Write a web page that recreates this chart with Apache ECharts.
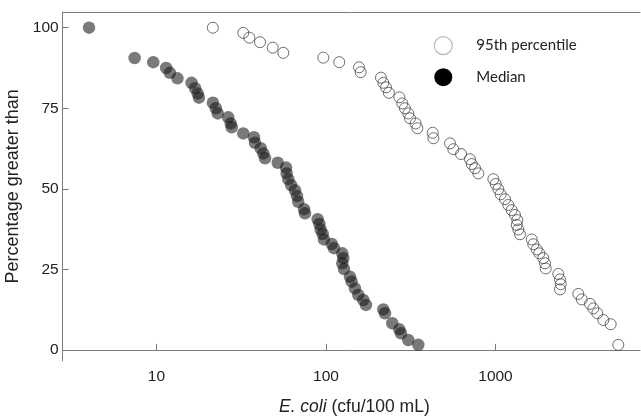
<!DOCTYPE html>
<html>
<head>
<meta charset="utf-8">
<script src="https://cdn.jsdelivr.net/npm/echarts@6/dist/echarts.min.js"></script>
<style>
html,body{margin:0;padding:0;background:#fff;}
#c{width:641px;height:418px;}
</style>
</head>
<body>
<div id="c"></div>
<script>
// ---- data ----
const medianX = [4.0, 7.43, 9.57, 11.4, 12.0, 13.3, 16.1, 16.9, 17.5, 17.8, 21.5, 22.4, 23.0, 26.5, 27.4, 27.8, 32.5, 37.6, 38.1, 41.2, 42.7, 43.7, 51.9, 58.1, 58.6, 59.9, 62.2, 65.6, 67.4, 68.6, 74.2, 75.2, 89.3, 91.3, 93.0, 95.6, 97.3, 108.1, 111.5, 124.8, 126.5, 124.8, 127.7, 138.6, 141.8, 148.3, 155.1, 166.0, 172.2, 217.8, 222.8, 246.1, 270.7, 277.0, 305.9, 350.4];
const medianY = [100.0, 90.6, 89.3, 87.5, 86.0, 84.3, 82.9, 81.2, 79.6, 78.3, 76.7, 75.0, 73.4, 72.2, 70.3, 69.1, 67.2, 66.0, 64.3, 62.6, 61.0, 59.5, 58.1, 56.6, 54.8, 53.0, 51.2, 49.6, 47.8, 46.0, 43.7, 42.4, 40.6, 39.1, 37.4, 36.0, 34.3, 32.9, 31.6, 30.0, 28.5, 26.9, 25.1, 22.7, 21.2, 19.1, 17.1, 15.5, 14.0, 12.6, 11.4, 8.3, 6.4, 5.2, 3.1, 1.6];
const p95X = [21.5, 32.5, 35.3, 40.8, 48.5, 56.0, 96.4, 119.8, 156.6, 160.2, 211, 218, 226, 235, 271, 282, 292, 306, 313, 338, 346, 426, 430, 539, 564, 626, 707, 724, 757, 792, 971, 1003, 1039, 1073, 1138, 1190, 1246, 1303, 1345, 1334, 1363, 1395, 1636, 1671, 1750, 1813, 1914, 1959, 1978, 2347, 2402, 2425, 2402, 3080, 3226, 3610, 3776, 3987, 4325, 4781, 5302];
const p95Y = [100.0, 98.4, 96.9, 95.5, 93.8, 92.2, 90.7, 89.3, 87.7, 86.2, 84.5, 82.9, 81.5, 79.8, 78.4, 76.5, 75.0, 73.4, 71.9, 70.3, 68.8, 67.4, 65.7, 64.1, 62.3, 60.8, 59.2, 57.7, 56.4, 54.8, 53.0, 51.5, 49.9, 48.3, 46.8, 45.0, 43.4, 41.9, 40.3, 38.8, 37.4, 35.9, 34.3, 32.8, 31.2, 30.0, 28.5, 26.9, 25.3, 23.6, 21.9, 20.4, 18.8, 17.4, 15.7, 14.3, 12.9, 11.4, 9.3, 8.0, 1.6];
const yTicks = [0, 25, 50, 75, 100];
const seriesNames = ['95th percentile', 'Median'];
const xName = 'E. coli';
const xUnit = '(cfu/100 mL)';
const yName = 'Percentage greater than';

const zip = (a, b) => a.map((v, i) => [v, b[i]]);

const chart = echarts.init(document.getElementById('c'), null, {renderer: 'canvas'});
const axisColor = '#7a7a7a';
const textColor = '#222';
const font = 'Arial, "Liberation Sans", sans-serif';

chart.setOption({
  animation: false,
  backgroundColor: '#fff',
  textStyle: {fontFamily: font},
  grid: {left: 62.7, right: 1, top: 12, bottom: 57.3, containLabel: false, outerBoundsMode: 'none'},
  legend: {
    orient: 'vertical',
    left: 428.7,
    top: 31,
    itemWidth: 56,
    itemHeight: 18,
    itemGap: 13,
    icon: 'circle',
    textStyle: {fontFamily: 'Lato, "Open Sans", sans-serif', fontSize: 15, color: '#222'},
    data: [
      {name: seriesNames[0], itemStyle: {color: '#fff', borderColor: '#aaa', borderWidth: 1.2}},
      {name: seriesNames[1], itemStyle: {color: '#000', borderWidth: 0, opacity: 1}}
    ]
  },
  xAxis: [{
    type: 'log',
    logBase: 10,
    min: 2.797,
    max: 7120,
    position: 'bottom',
    axisLine: {show: true, lineStyle: {color: axisColor, width: 1}},
    axisTick: {show: true, inside: true, length: 6, lineStyle: {color: axisColor, width: 1}},
    axisLabel: {
      showMinLabel: false, showMaxLabel: false,
      fontFamily: font, fontSize: 15.5, color: textColor, margin: 8,
      formatter: v => String(Math.round(v))
    },
    splitLine: {show: false},
    minorTick: {show: false},
    name: '{i|' + xName + '} ' + xUnit,
    nameLocation: 'middle',
    nameGap: 37,
    nameTextStyle: {
      fontFamily: font, fontSize: 17.5, color: textColor, padding: [0, 0, 0, 6],
      rich: {i: {fontStyle: 'italic', fontFamily: font, fontSize: 17.5, color: textColor}}
    }
  }, {
    type: 'log',
    logBase: 10,
    min: 2.797,
    max: 7120,
    position: 'top',
    axisLine: {show: true, lineStyle: {color: axisColor, width: 1}},
    axisTick: {show: false},
    axisLabel: {show: false},
    splitLine: {show: false}
  }],
  yAxis: {
    type: 'value',
    min: -3.32,
    max: 104.87,
    axisLine: {show: true, lineStyle: {color: axisColor, width: 1}},
    axisTick: {show: true, inside: true, length: 6, lineStyle: {color: axisColor}, customValues: yTicks},
    axisLabel: {fontFamily: font, fontSize: 15.5, color: textColor, margin: 4, customValues: yTicks},
    splitLine: {show: false},
    name: yName,
    nameLocation: 'middle',
    nameRotate: 90,
    nameGap: 35,
    nameTextStyle: {fontFamily: font, fontSize: 18, color: textColor}
  },
  series: [{
    name: seriesNames[0],
    type: 'scatter',
    xAxisIndex: 0,
    data: zip(p95X, p95Y),
    symbol: 'circle',
    symbolSize: 11,
    itemStyle: {color: 'rgba(255,255,255,0)', borderColor: '#4a4a4a', borderWidth: 1},
    emphasis: {disabled: true}
  }, {
    name: seriesNames[1],
    type: 'scatter',
    xAxisIndex: 0,
    data: zip(medianX, medianY),
    symbol: 'circle',
    symbolSize: 12.5,
    itemStyle: {color: 'rgba(25,25,25,0.72)', borderWidth: 0},
    emphasis: {disabled: true}
  }]
});
</script>
</body>
</html>
